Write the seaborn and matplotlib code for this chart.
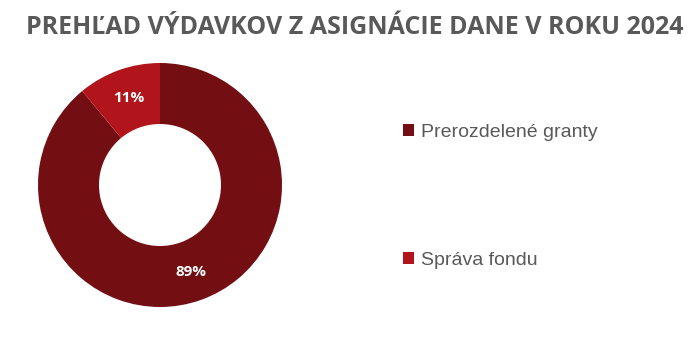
import matplotlib
matplotlib.use("Agg")
import matplotlib.pyplot as plt
import seaborn as sns
from matplotlib.patches import Patch

categories = ["Prerozdelené granty", "Správa fondu"]
values = [89, 11]
colors = ["#730F12", "#B1141B"]
title = "PREHĽAD VÝDAVKOV Z ASIGNÁCIE DANE V ROKU 2024"

sns.set_theme(style="white")
plt.rcParams["font.family"] = ["Liberation Sans", "DejaVu Sans"]

fig = plt.figure(figsize=(7, 3.45), dpi=100)
cx, cy, r = 160, 185, 122
ax = fig.add_axes([(cx - r) / 700, (345 - cy - r) / 345, 2 * r / 700, 2 * r / 345])

wedges, texts, autotexts = ax.pie(
    values, colors=colors, startangle=90, counterclock=False,
    wedgeprops=dict(width=0.5, edgecolor="none"),
    autopct=lambda p: f"{p:.0f}%", pctdistance=0.76,
    textprops=dict(color="white", fontsize=11, fontweight="bold", family=["Open Sans", "DejaVu Sans"]))
ax.set_xlim(-1, 1)
ax.set_ylim(-1, 1)
ax.set_aspect("equal")
ax.axis("off")

fig.text(355 / 700, 1 - 28 / 345, title, ha="center", va="center", fontsize=18,
         fontweight="bold", color="#595959", family=["Open Sans", "DejaVu Sans"])

handles = [Patch(facecolor=c, edgecolor="none") for c in colors]
leg = fig.legend(handles, categories, loc="center left", bbox_to_anchor=(385 / 700, 1 - 196.5 / 345),
                 frameon=False, fontsize=14, labelspacing=5.7, handlelength=0.6, handleheight=0.6,
                 handletextpad=0.35, labelcolor="#595959")

fig.savefig("out.png", dpi=100)
